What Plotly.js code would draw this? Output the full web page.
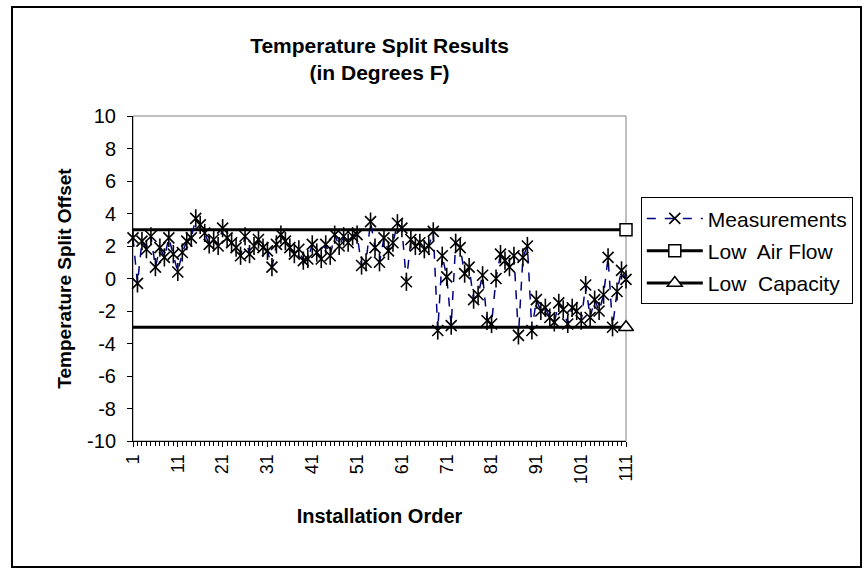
<!DOCTYPE html>
<html><head><meta charset="utf-8">
<script src="https://cdn.plot.ly/plotly-3.0.1.min.js"></script>
<style>
html,body{margin:0;padding:0;background:#fff}
#wrap{position:relative;width:865px;height:572px}
#chart{width:865px;height:572px}
#frame{position:absolute;left:11px;top:6px;width:851px;height:562px;border:2px solid #000;box-sizing:border-box;pointer-events:none}
</style>
</head><body><div id="wrap"><div id="chart"></div><div id="frame"></div></div>
<script>
const installationOrder = [1,2,3,4,5,6,7,8,9,10,11,12,13,14,15,16,17,18,19,20,21,22,23,24,25,26,27,28,29,30,31,32,33,34,35,36,37,38,39,40,41,42,43,44,45,46,47,48,49,50,51,52,53,54,55,56,57,58,59,60,61,62,63,64,65,66,67,68,69,70,71,72,73,74,75,76,77,78,79,80,81,82,83,84,85,86,87,88,89,90,91,92,93,94,95,96,97,98,99,100,101,102,103,104,105,106,107,108,109,110,111];
const measurements = [2.5,-0.3,2.3,1.8,2.6,0.7,1.9,1.3,2.5,1.5,0.4,1.6,2.3,2.5,3.7,3.3,2.8,2.1,2.4,2.0,3.1,2.5,2.2,1.9,1.4,2.6,1.5,2.0,2.4,1.9,1.7,0.7,2.1,2.7,2.3,1.9,1.5,1.8,1.1,1.2,2.1,1.6,1.2,2.1,1.4,2.7,2.0,2.6,2.2,2.6,2.7,0.8,1.0,3.5,1.9,1.0,2.5,1.7,2.2,3.4,3.1,-0.2,2.4,2.0,2.2,1.8,2.0,2.9,-3.2,1.4,0.1,-2.9,2.2,1.9,0.3,0.7,-1.3,-1.0,0.2,-2.6,-2.8,0.0,1.5,1.1,0.7,1.4,-3.5,1.3,2.0,-3.2,-1.3,-2.0,-1.8,-2.4,-2.7,-1.5,-1.9,-2.8,-1.8,-2.0,-2.6,-0.4,-2.4,-1.3,-2.0,-1.0,1.3,-3.0,-0.8,0.5,-0.05];
const lowAirFlow = [3,3,3,3,3,3,3,3,3,3,3,3,3,3,3,3,3,3,3,3,3,3,3,3,3,3,3,3,3,3,3,3,3,3,3,3,3,3,3,3,3,3,3,3,3,3,3,3,3,3,3,3,3,3,3,3,3,3,3,3,3,3,3,3,3,3,3,3,3,3,3,3,3,3,3,3,3,3,3,3,3,3,3,3,3,3,3,3,3,3,3,3,3,3,3,3,3,3,3,3,3,3,3,3,3,3,3,3,3,3,3];
const lowCapacity = [-3,-3,-3,-3,-3,-3,-3,-3,-3,-3,-3,-3,-3,-3,-3,-3,-3,-3,-3,-3,-3,-3,-3,-3,-3,-3,-3,-3,-3,-3,-3,-3,-3,-3,-3,-3,-3,-3,-3,-3,-3,-3,-3,-3,-3,-3,-3,-3,-3,-3,-3,-3,-3,-3,-3,-3,-3,-3,-3,-3,-3,-3,-3,-3,-3,-3,-3,-3,-3,-3,-3,-3,-3,-3,-3,-3,-3,-3,-3,-3,-3,-3,-3,-3,-3,-3,-3,-3,-3,-3,-3,-3,-3,-3,-3,-3,-3,-3,-3,-3,-3,-3,-3,-3,-3,-3,-3,-3,-3,-3,-3];
const xTickLabels = [1,11,21,31,41,51,61,71,81,91,101,111];
const yTickValues = [-10,-8,-6,-4,-2,0,2,4,6,8,10];
const yTickLabels = ['-10','-8','-6','-4','-2','0','2','4','6','8','10'];
const seriesNames = ['Measurements','Low\u00a0 Air Flow','Low\u00a0 Capacity'];

const FONT = 'Liberation Sans, Arial, sans-serif';
const last = installationOrder.length - 1;

const traces = [
  {x: installationOrder, y: lowAirFlow, mode: 'lines', line: {color: '#000', width: 3},
   showlegend: false, legendgroup: 'b', hoverinfo: 'skip'},
  {x: installationOrder, y: lowCapacity, mode: 'lines', line: {color: '#000', width: 3},
   showlegend: false, legendgroup: 'c', hoverinfo: 'skip'},
  {x: installationOrder, y: measurements, name: seriesNames[0], legendgroup: 'a',
   mode: 'lines+markers', cliponaxis: false,
   line: {color: '#000080', width: 1.5, dash: 'dash'},
   marker: {symbol: 'x-thin-open', size: 11, color: '#000', line: {color: '#000', width: 1.6}}},
  {x: installationOrder, y: measurements, mode: 'markers', showlegend: false, cliponaxis: false,
   legendgroup: 'a', hoverinfo: 'skip',
   marker: {symbol: 'line-ns-open', size: 13, color: '#000', line: {color: '#000', width: 1.6}}},
  {x: [installationOrder[last]], y: [lowAirFlow[last]], name: seriesNames[1], legendgroup: 'b',
   mode: 'lines+markers', cliponaxis: false, line: {color: '#000', width: 3},
   marker: {symbol: 'square', size: 12, color: '#fff', line: {color: '#000', width: 1.5}}},
  {x: [installationOrder[last]], y: [lowCapacity[last]], name: seriesNames[2], legendgroup: 'c',
   mode: 'lines+markers', cliponaxis: false, line: {color: '#000', width: 3},
   marker: {symbol: 'triangle-up', size: 13, color: '#fff', line: {color: '#000', width: 1.5}}}
];

const layout = {
  width: 865, height: 572,
  margin: {l: 133, r: 237, t: 116, b: 131, pad: 0},
  paper_bgcolor: '#fff', plot_bgcolor: '#fff',
  font: {family: FONT, color: '#000', size: 18},
  title: {text: '<b>Temperature Split Results<br>(in Degrees F)</b>', x: 0.5, xref: 'paper',
          y: 0.907, yref: 'container', yanchor: 'top', font: {family: FONT, size: 21, color: '#000'}},
  xaxis: {
    range: [1, 111], showgrid: false, zeroline: false,
    showline: true, linecolor: '#000', linewidth: 1,
    tickmode: 'array', tickvals: xTickLabels, ticktext: xTickLabels.map(String),
    ticks: 'outside', ticklen: 5, tickcolor: '#000', tickangle: -90,
    minor: {dtick: 1, tick0: 0, ticks: 'outside', ticklen: 4, tickcolor: '#000'},
    tickfont: {family: FONT, size: 18},
    title: {text: '<b>Installation Order</b>', font: {family: FONT, size: 20}, standoff: 25},
    automargin: false
  },
  yaxis: {
    range: [-10, 10], showgrid: false, zeroline: false,
    showline: true, linecolor: '#000', linewidth: 1,
    tickmode: 'array', tickvals: yTickValues, ticktext: yTickLabels,
    ticks: 'outside', ticklen: 5, tickcolor: '#000', ticklabelstandoff: 7,
    tickfont: {family: FONT, size: 20},
    title: {text: '<b>Temperature Split Offset</b>', font: {family: FONT, size: 19}, standoff: 10},
    automargin: false
  },
  shapes: [{type: 'rect', xref: 'paper', yref: 'paper', x0: 0, x1: 1, y0: 0, y1: 1,
            line: {color: '#808080', width: 1}, layer: 'below'}],
  legend: {x: 1.03, xanchor: 'left', y: 0.75, yanchor: 'top',
           bordercolor: '#000', borderwidth: 1, bgcolor: '#fff',
           font: {family: FONT, size: 21}, traceorder: 'grouped', tracegroupgap: 2,
           itemwidth: 56}
};

Plotly.newPlot('chart', traces, layout, {displayModeBar: false, staticPlot: true});
</script>
</body></html>
